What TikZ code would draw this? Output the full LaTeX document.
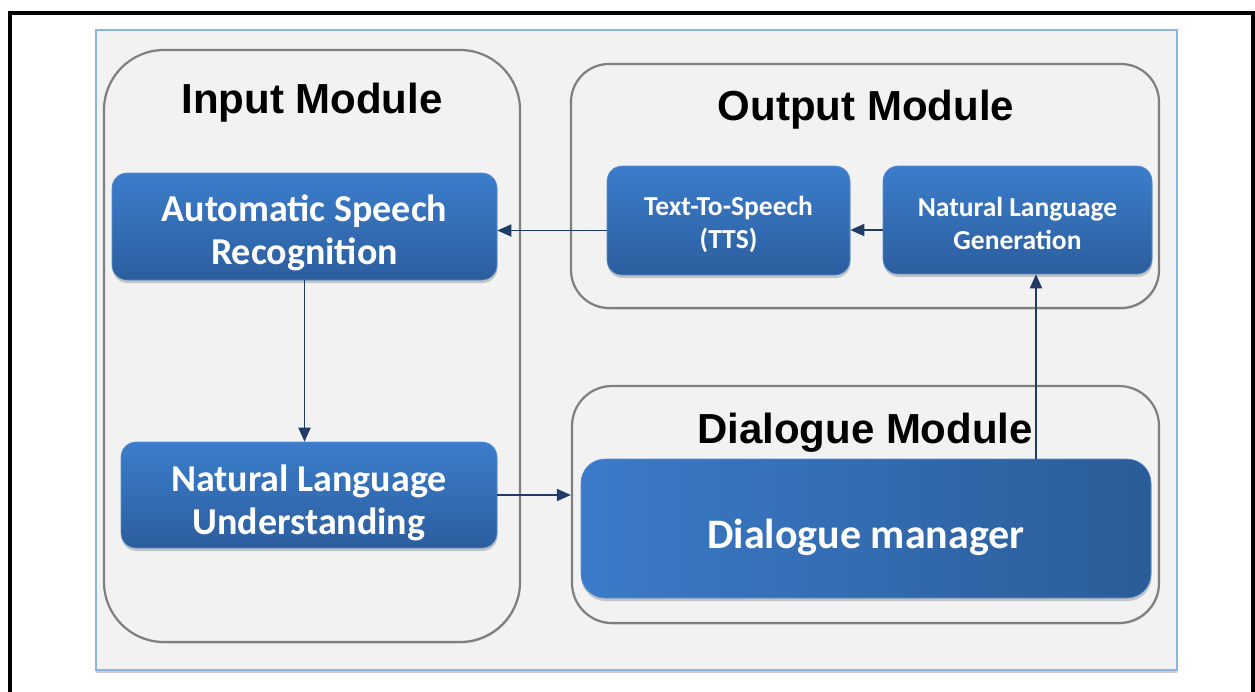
\documentclass[tikz,border=0pt]{standalone}
\usepackage{fontspec}
\newfontfamily\titlefont{Liberation Sans}
\newfontfamily\boxfont{Carlito}
\usetikzlibrary{shadows,arrows.meta,calc}
\definecolor{panelbg}{HTML}{F2F2F2}
\definecolor{panelborder}{HTML}{8DB3E2}
\definecolor{modborder}{HTML}{7F7F7F}
\definecolor{bluetop}{HTML}{3B7DCB}
\definecolor{bluebot}{HTML}{2C5E9E}
\definecolor{blueleft}{HTML}{3B7BC9}
\definecolor{blueright}{HTML}{2B5C98}
\definecolor{arrowc}{HTML}{1F3B66}
\begin{document}
\begin{tikzpicture}[x=1pt,y=-1pt,
 module/.style={rectangle, draw=modborder, line width=2.2pt, fill=panelbg, inner sep=0pt,
   drop shadow={shadow xshift=0.8pt, shadow yshift=-1.5pt, opacity=0.3}},
 bluebox/.style={rectangle, rounded corners=15pt, top color=bluetop, bottom color=bluebot,
   draw=bluetop!85!white, line width=0.6pt, inner sep=0pt,
   drop shadow={shadow xshift=0.5pt, shadow yshift=-3pt, opacity=0.4}},
 boxtext/.style={text=white, align=center, inner sep=0pt},
 bigtxt/.style={boxtext, font=\boxfont\bfseries\fontsize{38}{43}\selectfont},
 smalltxt/.style={boxtext, font=\boxfont\bfseries\fontsize{27.5}{33}\selectfont},
 title/.style={font=\titlefont\bfseries\fontsize{42}{50}\selectfont, anchor=base, inner sep=0pt},
 arr/.style={draw=arrowc, line width=1.8pt, -{Triangle[length=14pt,width=12pt]}}
]
\useasboundingbox (0,0) rectangle (1255,691);
% outer black frame (open at the bottom)
\draw[line width=4pt, black] (10,700) -- (10,12.5) -- (1252.5,12.5) -- (1252.5,700);
% light panel
\draw[panelborder, line width=1.5pt, fill=panelbg,
  drop shadow={shadow xshift=0pt, shadow yshift=-2.5pt, opacity=0.4}] (96,30) rectangle (1177,670);
% modules
\node[module, rounded corners=60pt, minimum width=416pt, minimum height=592pt] (Input) at (312,346) {};
\node[module, rounded corners=38pt, minimum width=588pt, minimum height=244pt] (Output) at (865,186) {};
\node[module, rounded corners=40pt, minimum width=587pt, minimum height=237pt] (DMod) at (865.5,504.5) {};
% titles
\node[title] (tIn) at (312,113) {Input Module};
\node[title] (tOut) at (866,120) {Output Module};
\node[title] (tDia) at (865,443) {Dialogue Module};
% blue boxes
\node[bluebox, minimum width=385pt, minimum height=107pt] (ASR) at (304.5,226.5) {};
\node[bluebox, minimum width=376pt, minimum height=106pt] (NLU) at (309,495) {};
\node[bluebox, minimum width=243pt, minimum height=109pt] (TTS) at (728.5,220.5) {};
\node[bluebox, minimum width=269pt, minimum height=108pt] (NLG) at (1017.5,220) {};
\node[bluebox, rounded corners=24pt, left color=blueleft, right color=blueright,
  minimum width=570pt, minimum height=139pt] (DM) at (866,528.5) {};
% box texts
\node[bigtxt] (ASRt) at ([yshift=-6.5pt]ASR.center) {Automatic Speech\\Recognition};
\node[bigtxt] (NLUt) at ([yshift=-7.5pt]NLU.center) {Natural Language\\Understanding};
\node[smalltxt] (TTSt) at ([yshift=-4pt]TTS.center) {Text-To-Speech\\(TTS)};
\node[smalltxt] (NLGt) at ([yshift=-3pt]NLG.center) {Natural Language\\Generation};
\node[boxtext, font=\boxfont\bfseries\fontsize{42}{50}\selectfont] (DMt) at ([yshift=-9pt]DM.center) {Dialogue manager};
% connectors
\coordinate (upx) at (1036,0);
\draw[arr] ([yshift=-10pt]TTS.west) -- ([yshift=-10pt]TTS.west -| ASR.east);
\draw[arr] ([yshift=-10pt]NLG.west) -- ([yshift=-10pt]NLG.west -| TTS.east);
\draw[arr] (ASR.south) -- (ASR.south |- NLU.north);
\draw[arr] (NLU.east) -- (NLU.east -| DMod.west);
\draw[arr] (DM.north -| upx) -- (NLG.south -| upx);
\end{tikzpicture}
\end{document}
